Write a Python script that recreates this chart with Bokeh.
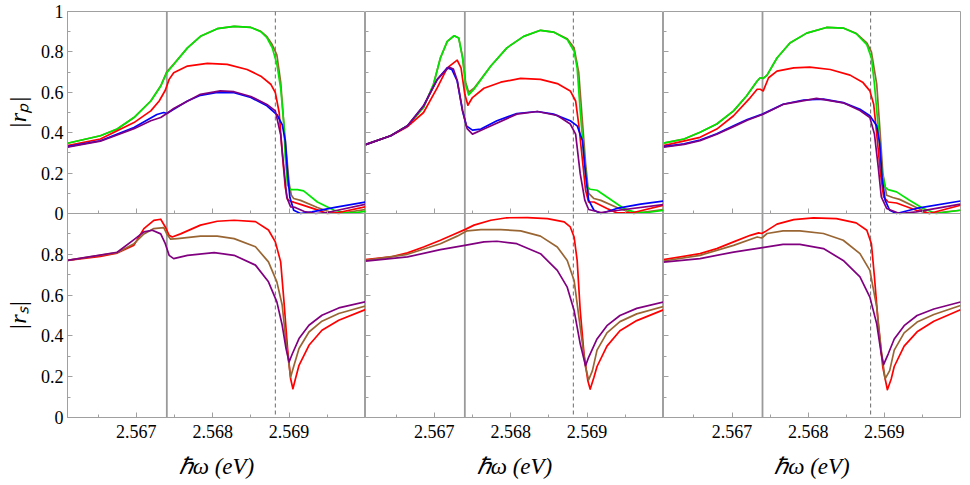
import math
from bokeh.plotting import figure
from bokeh.models import (FixedTicker, Span, Range1d, LinearAxis,
                          CustomLabelingPolicy)
from bokeh.core.properties import value
from bokeh.layouts import row
from bokeh.embed import file_html
from bokeh.resources import INLINE

# ---------------- axes / ticks ----------------
x_limits = (2.5661, 2.5700)
x_ticks = [2.567, 2.568, 2.569]
x_tick_labels = ["2.567", "2.568", "2.569"]
x_minor_ticks = [2.5665, 2.5675, 2.5685, 2.5695]
rp_ticks = [0.0, 0.2, 0.4, 0.6, 0.8, 1.0]
rp_tick_labels = ["0", "0.2", "0.4", "0.6", "0.8", "1"]
rs_ticks = [0.0, 0.2, 0.4, 0.6, 0.8]
rs_tick_labels = ["0", "0.2", "0.4", "0.6", "0.8"]
y_minor_ticks = [0.1, 0.3, 0.5, 0.7, 0.9]
solid_line_x = 2.5674
dashed_line_x = 2.56882
x_label = "\u210f\u03c9 (eV)"
rp_label = "|r\u209a|"
rs_label = "|r\u209b|"

# ---------------- |r_p|, left panel ----------------
rp_a_green_x = [2.56610, 2.56653, 2.56675, 2.56697, 2.56719, 2.56732, 2.56740, 2.56749, 2.56767, 2.56784, 2.56806, 2.56828, 2.56850, 2.56863, 2.56871, 2.56878, 2.56884, 2.56889, 2.56893, 2.56895, 2.56898, 2.56902, 2.56911, 2.56919, 2.56937, 2.56959, 2.56976, 2.56990, 2.57000]
rp_a_green_y = [0.348, 0.385, 0.418, 0.475, 0.557, 0.630, 0.697, 0.738, 0.820, 0.877, 0.915, 0.926, 0.921, 0.900, 0.870, 0.820, 0.740, 0.620, 0.450, 0.280, 0.140, 0.118, 0.118, 0.112, 0.057, 0.016, 0.002, 0.006, 0.011]
rp_a_brown_x = [2.56610, 2.56653, 2.56675, 2.56697, 2.56719, 2.56732, 2.56740, 2.56749, 2.56767, 2.56784, 2.56806, 2.56828, 2.56850, 2.56863, 2.56871, 2.56878, 2.56884, 2.56889, 2.56893, 2.56897, 2.56900, 2.56903, 2.56906, 2.56915, 2.56937, 2.56955, 2.56965, 2.57000]
rp_a_brown_y = [0.348, 0.385, 0.418, 0.475, 0.557, 0.632, 0.702, 0.740, 0.820, 0.877, 0.915, 0.926, 0.921, 0.902, 0.875, 0.835, 0.785, 0.650, 0.450, 0.280, 0.150, 0.090, 0.074, 0.065, 0.030, 0.005, 0.000, 0.020]
rp_a_red_x = [2.56610, 2.56653, 2.56697, 2.56719, 2.56730, 2.56738, 2.56743, 2.56749, 2.56767, 2.56793, 2.56819, 2.56845, 2.56863, 2.56876, 2.56882, 2.56887, 2.56891, 2.56895, 2.56898, 2.56902, 2.56906, 2.56915, 2.56937, 2.56950, 2.56965, 2.57000]
rp_a_red_y = [0.336, 0.369, 0.450, 0.508, 0.557, 0.610, 0.664, 0.697, 0.730, 0.743, 0.738, 0.713, 0.680, 0.640, 0.598, 0.500, 0.300, 0.130, 0.070, 0.060, 0.056, 0.045, 0.018, 0.000, 0.005, 0.033]
rp_a_blue_x = [2.56610, 2.56653, 2.56697, 2.56727, 2.56736, 2.56740, 2.56749, 2.56767, 2.56784, 2.56806, 2.56828, 2.56850, 2.56871, 2.56884, 2.56891, 2.56895, 2.56898, 2.56901, 2.56906, 2.56915, 2.56930, 2.56960, 2.57000]
rp_a_blue_y = [0.331, 0.360, 0.426, 0.490, 0.500, 0.495, 0.516, 0.557, 0.585, 0.600, 0.598, 0.574, 0.533, 0.490, 0.440, 0.360, 0.200, 0.080, 0.016, 0.000, 0.008, 0.030, 0.057]
rp_a_purple_x = [2.56610, 2.56653, 2.56675, 2.56697, 2.56719, 2.56732, 2.56740, 2.56749, 2.56784, 2.56810, 2.56828, 2.56850, 2.56871, 2.56882, 2.56889, 2.56893, 2.56897, 2.56902, 2.56908, 2.56920, 2.56935, 2.56950, 2.57000]
rp_a_purple_y = [0.328, 0.358, 0.389, 0.420, 0.459, 0.475, 0.495, 0.520, 0.590, 0.607, 0.603, 0.579, 0.540, 0.508, 0.390, 0.230, 0.080, 0.033, 0.030, 0.010, 0.000, 0.005, 0.046]

# ---------------- |r_p|, middle panel ----------------
rp_b_green_x = [2.56610, 2.56643, 2.56665, 2.56686, 2.56699, 2.56708, 2.56717, 2.56726, 2.56732, 2.56737, 2.56741, 2.56745, 2.56752, 2.56774, 2.56795, 2.56817, 2.56839, 2.56856, 2.56874, 2.56883, 2.56887, 2.56891, 2.56896, 2.56900, 2.56904, 2.56913, 2.56926, 2.56948, 2.56961, 2.56979, 2.57000]
rp_b_green_y = [0.341, 0.385, 0.434, 0.525, 0.640, 0.770, 0.852, 0.880, 0.869, 0.770, 0.640, 0.587, 0.615, 0.730, 0.820, 0.877, 0.907, 0.898, 0.861, 0.803, 0.720, 0.508, 0.279, 0.130, 0.120, 0.115, 0.082, 0.025, 0.008, 0.005, 0.016]
rp_b_brown_x = [2.56610, 2.56643, 2.56665, 2.56686, 2.56699, 2.56708, 2.56717, 2.56726, 2.56732, 2.56737, 2.56741, 2.56745, 2.56752, 2.56774, 2.56795, 2.56817, 2.56839, 2.56856, 2.56874, 2.56883, 2.56889, 2.56894, 2.56898, 2.56902, 2.56909, 2.56918, 2.56939, 2.56961, 2.57000]
rp_b_brown_y = [0.341, 0.385, 0.434, 0.525, 0.640, 0.770, 0.852, 0.880, 0.869, 0.775, 0.650, 0.600, 0.620, 0.730, 0.820, 0.877, 0.907, 0.898, 0.865, 0.820, 0.700, 0.450, 0.250, 0.100, 0.074, 0.065, 0.030, 0.000, 0.020]
rp_b_red_x = [2.56610, 2.56643, 2.56665, 2.56686, 2.56704, 2.56717, 2.56730, 2.56735, 2.56740, 2.56744, 2.56750, 2.56765, 2.56787, 2.56813, 2.56839, 2.56861, 2.56878, 2.56885, 2.56889, 2.56894, 2.56898, 2.56902, 2.56909, 2.56926, 2.56939, 2.56961, 2.57000]
rp_b_red_y = [0.341, 0.385, 0.430, 0.500, 0.623, 0.721, 0.759, 0.721, 0.590, 0.536, 0.574, 0.620, 0.650, 0.669, 0.664, 0.643, 0.607, 0.557, 0.443, 0.262, 0.115, 0.057, 0.057, 0.025, 0.003, 0.005, 0.041]
rp_b_blue_x = [2.56610, 2.56643, 2.56665, 2.56686, 2.56704, 2.56717, 2.56723, 2.56730, 2.56737, 2.56742, 2.56750, 2.56761, 2.56782, 2.56808, 2.56835, 2.56856, 2.56878, 2.56887, 2.56894, 2.56898, 2.56902, 2.56909, 2.56918, 2.56939, 2.56970, 2.57000]
rp_b_blue_y = [0.341, 0.385, 0.434, 0.533, 0.664, 0.721, 0.713, 0.656, 0.508, 0.434, 0.413, 0.418, 0.459, 0.495, 0.505, 0.492, 0.459, 0.434, 0.360, 0.197, 0.066, 0.016, 0.000, 0.025, 0.046, 0.062]
rp_b_purple_x = [2.56610, 2.56643, 2.56665, 2.56686, 2.56704, 2.56719, 2.56725, 2.56730, 2.56737, 2.56743, 2.56750, 2.56765, 2.56808, 2.56835, 2.56861, 2.56878, 2.56885, 2.56891, 2.56897, 2.56902, 2.56918, 2.56939, 2.57000]
rp_b_purple_y = [0.341, 0.385, 0.434, 0.533, 0.664, 0.725, 0.715, 0.660, 0.510, 0.420, 0.393, 0.418, 0.492, 0.505, 0.485, 0.443, 0.393, 0.197, 0.066, 0.020, 0.005, 0.015, 0.044]

# ---------------- |r_p|, right panel ----------------
rp_c_green_x = [2.56610, 2.56637, 2.56658, 2.56680, 2.56702, 2.56719, 2.56733, 2.56737, 2.56741, 2.56746, 2.56759, 2.56776, 2.56798, 2.56824, 2.56846, 2.56863, 2.56877, 2.56883, 2.56887, 2.56892, 2.56896, 2.56901, 2.56905, 2.56916, 2.56933, 2.56951, 2.56968, 2.57000]
rp_c_green_y = [0.348, 0.369, 0.402, 0.443, 0.508, 0.582, 0.656, 0.672, 0.669, 0.685, 0.770, 0.844, 0.893, 0.921, 0.918, 0.890, 0.836, 0.770, 0.640, 0.426, 0.230, 0.131, 0.118, 0.107, 0.066, 0.025, 0.000, 0.016]
rp_c_brown_x = [2.56610, 2.56637, 2.56658, 2.56680, 2.56702, 2.56719, 2.56733, 2.56737, 2.56741, 2.56746, 2.56759, 2.56776, 2.56798, 2.56824, 2.56846, 2.56863, 2.56877, 2.56883, 2.56890, 2.56894, 2.56898, 2.56903, 2.56911, 2.56920, 2.56942, 2.56959, 2.57000]
rp_c_brown_y = [0.348, 0.369, 0.402, 0.443, 0.508, 0.582, 0.656, 0.672, 0.669, 0.685, 0.770, 0.844, 0.893, 0.921, 0.918, 0.892, 0.845, 0.800, 0.640, 0.426, 0.200, 0.090, 0.079, 0.070, 0.030, 0.000, 0.016]
rp_c_red_x = [2.56610, 2.56658, 2.56680, 2.56702, 2.56724, 2.56733, 2.56737, 2.56741, 2.56748, 2.56759, 2.56781, 2.56802, 2.56829, 2.56855, 2.56872, 2.56881, 2.56886, 2.56890, 2.56895, 2.56899, 2.56905, 2.56916, 2.56942, 2.56959, 2.57000]
rp_c_red_y = [0.336, 0.377, 0.418, 0.484, 0.574, 0.615, 0.615, 0.607, 0.672, 0.705, 0.721, 0.725, 0.713, 0.685, 0.648, 0.607, 0.541, 0.393, 0.197, 0.082, 0.057, 0.052, 0.016, 0.000, 0.041]
rp_c_blue_x = [2.56610, 2.56637, 2.56658, 2.56680, 2.56702, 2.56720, 2.56740, 2.56767, 2.56794, 2.56820, 2.56846, 2.56868, 2.56881, 2.56890, 2.56894, 2.56897, 2.56901, 2.56907, 2.56916, 2.56942, 2.57000]
rp_c_blue_y = [0.331, 0.345, 0.364, 0.395, 0.434, 0.465, 0.492, 0.541, 0.562, 0.566, 0.549, 0.516, 0.484, 0.434, 0.344, 0.180, 0.066, 0.016, 0.000, 0.025, 0.062]
rp_c_purple_x = [2.56610, 2.56637, 2.56658, 2.56680, 2.56702, 2.56720, 2.56740, 2.56767, 2.56811, 2.56846, 2.56868, 2.56881, 2.56887, 2.56892, 2.56896, 2.56903, 2.56920, 2.56942, 2.57000]
rp_c_purple_y = [0.328, 0.342, 0.360, 0.392, 0.430, 0.462, 0.490, 0.540, 0.570, 0.548, 0.510, 0.475, 0.393, 0.230, 0.082, 0.025, 0.000, 0.008, 0.046]

# ---------------- |r_s|, left panel ----------------
rs_a_red_x = [2.56610, 2.56653, 2.56675, 2.56697, 2.56710, 2.56723, 2.56732, 2.56738, 2.56743, 2.56747, 2.56758, 2.56784, 2.56806, 2.56828, 2.56856, 2.56873, 2.56882, 2.56889, 2.56893, 2.56898, 2.56902, 2.56905, 2.56908, 2.56913, 2.56926, 2.56943, 2.56965, 2.57000]
rs_a_red_y = [0.770, 0.790, 0.806, 0.845, 0.926, 0.966, 0.972, 0.934, 0.893, 0.885, 0.900, 0.943, 0.962, 0.967, 0.960, 0.919, 0.861, 0.763, 0.583, 0.338, 0.190, 0.141, 0.185, 0.256, 0.354, 0.428, 0.477, 0.529]
rs_a_brown_x = [2.56610, 2.56675, 2.56697, 2.56710, 2.56723, 2.56736, 2.56740, 2.56745, 2.56754, 2.56784, 2.56806, 2.56828, 2.56856, 2.56873, 2.56884, 2.56891, 2.56896, 2.56900, 2.56902, 2.56906, 2.56913, 2.56926, 2.56943, 2.56965, 2.57000]
rs_a_brown_y = [0.770, 0.808, 0.852, 0.900, 0.926, 0.931, 0.900, 0.874, 0.877, 0.889, 0.889, 0.877, 0.837, 0.763, 0.665, 0.550, 0.370, 0.256, 0.198, 0.250, 0.338, 0.419, 0.472, 0.510, 0.547]
rs_a_purple_x = [2.56610, 2.56675, 2.56697, 2.56710, 2.56721, 2.56732, 2.56738, 2.56743, 2.56749, 2.56767, 2.56802, 2.56828, 2.56856, 2.56873, 2.56884, 2.56891, 2.56896, 2.56900, 2.56904, 2.56913, 2.56926, 2.56943, 2.56965, 2.57000]
rs_a_purple_y = [0.770, 0.810, 0.872, 0.910, 0.918, 0.900, 0.852, 0.795, 0.779, 0.795, 0.808, 0.795, 0.747, 0.665, 0.567, 0.452, 0.338, 0.272, 0.310, 0.387, 0.452, 0.501, 0.537, 0.567]

# ---------------- |r_s|, middle panel ----------------
rs_b_red_x = [2.56610, 2.56643, 2.56665, 2.56686, 2.56708, 2.56726, 2.56740, 2.56752, 2.56774, 2.56795, 2.56822, 2.56848, 2.56870, 2.56878, 2.56883, 2.56887, 2.56891, 2.56896, 2.56901, 2.56904, 2.56909, 2.56913, 2.56926, 2.56943, 2.56965, 2.57000]
rs_b_red_y = [0.774, 0.787, 0.807, 0.836, 0.869, 0.898, 0.921, 0.943, 0.967, 0.979, 0.980, 0.975, 0.959, 0.934, 0.885, 0.770, 0.525, 0.311, 0.180, 0.139, 0.197, 0.250, 0.350, 0.425, 0.475, 0.528]
rs_b_brown_x = [2.56610, 2.56665, 2.56708, 2.56730, 2.56743, 2.56761, 2.56787, 2.56813, 2.56839, 2.56861, 2.56874, 2.56883, 2.56891, 2.56898, 2.56902, 2.56907, 2.56913, 2.56926, 2.56943, 2.56965, 2.57000]
rs_b_brown_y = [0.770, 0.800, 0.852, 0.889, 0.915, 0.921, 0.921, 0.915, 0.889, 0.836, 0.770, 0.672, 0.443, 0.246, 0.184, 0.230, 0.330, 0.415, 0.470, 0.508, 0.544]
rs_b_purple_x = [2.56610, 2.56665, 2.56708, 2.56740, 2.56765, 2.56782, 2.56808, 2.56839, 2.56861, 2.56874, 2.56883, 2.56891, 2.56898, 2.56902, 2.56913, 2.56926, 2.56943, 2.56965, 2.57000]
rs_b_purple_y = [0.767, 0.787, 0.823, 0.844, 0.861, 0.864, 0.852, 0.803, 0.721, 0.639, 0.525, 0.361, 0.254, 0.295, 0.385, 0.450, 0.500, 0.535, 0.566]

# ---------------- |r_s|, right panel ----------------
rs_c_red_x = [2.56610, 2.56658, 2.56680, 2.56702, 2.56724, 2.56735, 2.56739, 2.56743, 2.56759, 2.56781, 2.56807, 2.56837, 2.56863, 2.56877, 2.56883, 2.56887, 2.56892, 2.56898, 2.56904, 2.56909, 2.56913, 2.56926, 2.56943, 2.56965, 2.57000]
rs_c_red_y = [0.774, 0.803, 0.828, 0.861, 0.893, 0.905, 0.902, 0.910, 0.948, 0.970, 0.979, 0.975, 0.954, 0.918, 0.852, 0.689, 0.459, 0.246, 0.136, 0.189, 0.250, 0.350, 0.420, 0.472, 0.528]
rs_c_brown_x = [2.56610, 2.56658, 2.56702, 2.56733, 2.56739, 2.56746, 2.56767, 2.56789, 2.56820, 2.56846, 2.56868, 2.56881, 2.56890, 2.56896, 2.56901, 2.56907, 2.56913, 2.56926, 2.56943, 2.56965, 2.57000]
rs_c_brown_y = [0.767, 0.795, 0.844, 0.885, 0.880, 0.902, 0.915, 0.915, 0.902, 0.869, 0.803, 0.721, 0.541, 0.328, 0.189, 0.230, 0.330, 0.415, 0.468, 0.505, 0.549]
rs_c_purple_x = [2.56610, 2.56658, 2.56702, 2.56740, 2.56767, 2.56789, 2.56820, 2.56846, 2.56868, 2.56881, 2.56890, 2.56896, 2.56899, 2.56905, 2.56913, 2.56926, 2.56943, 2.56965, 2.57000]
rs_c_purple_y = [0.762, 0.779, 0.811, 0.833, 0.849, 0.849, 0.828, 0.770, 0.689, 0.590, 0.459, 0.311, 0.259, 0.311, 0.385, 0.450, 0.500, 0.532, 0.566]

# ---------------- styling ----------------
COLORS = {"green": "#00e600", "brown": "#996633", "red": "#ff0000",
          "blue": "#0000ff", "purple": "#800080"}
FONT = "Liberation Serif"
FRAME = "#a0a0a0"
LW = 1.7

top_series = [
    [("brown", rp_a_brown_x, rp_a_brown_y), ("green", rp_a_green_x, rp_a_green_y), ("red", rp_a_red_x, rp_a_red_y),
     ("blue", rp_a_blue_x, rp_a_blue_y), ("purple", rp_a_purple_x, rp_a_purple_y)],
    [("brown", rp_b_brown_x, rp_b_brown_y), ("green", rp_b_green_x, rp_b_green_y), ("red", rp_b_red_x, rp_b_red_y),
     ("blue", rp_b_blue_x, rp_b_blue_y), ("purple", rp_b_purple_x, rp_b_purple_y)],
    [("brown", rp_c_brown_x, rp_c_brown_y), ("green", rp_c_green_x, rp_c_green_y), ("red", rp_c_red_x, rp_c_red_y),
     ("blue", rp_c_blue_x, rp_c_blue_y), ("purple", rp_c_purple_x, rp_c_purple_y)],
]
bottom_series = [
    [("red", rs_a_red_x, rs_a_red_y), ("brown", rs_a_brown_x, rs_a_brown_y), ("purple", rs_a_purple_x, rs_a_purple_y)],
    [("red", rs_b_red_x, rs_b_red_y), ("brown", rs_b_brown_x, rs_b_brown_y), ("purple", rs_b_purple_x, rs_b_purple_y)],
    [("red", rs_c_red_x, rs_c_red_y), ("brown", rs_c_brown_x, rs_c_brown_y), ("purple", rs_c_purple_x, rs_c_purple_y)],
]

# layout: each column is one figure holding the |r_p| panel (upper part of
# the frame) and the |r_s| panel (lower part), each on its own 0..1 range.
FRAME_W = [298, 298, 297]
TITLE_W = 34
TOP_H, BOT_H = 202, 204
FRAME_H = TOP_H + BOT_H
BORDER_TOP, BORDER_BOTTOM = 11, 68
rs_range = (0.0, FRAME_H / BOT_H)            # |r_s| 0..1 fills lower part
rp_range = (1.0 - FRAME_H / TOP_H, 1.0)      # |r_p| 0..1 fills upper part


def rp_on_rs_axis(v):
    """Position of an |r_p| value on the default (|r_s|) y range."""
    return rs_range[1] - (1.0 - v) * TOP_H / BOT_H


HIDE_CODE = "for (const i of indices) { indices.unset(i) }\nreturn indices"


def style_axis(ax, show_labels):
    ax.axis_line_color = FRAME
    ax.axis_line_width = 1
    ax.major_tick_line_color = FRAME
    ax.minor_tick_line_color = FRAME
    ax.major_tick_in = 5
    ax.major_tick_out = 0
    ax.minor_tick_in = 3
    ax.minor_tick_out = 0
    ax.major_label_text_font = FONT
    ax.major_label_text_font_size = "18px"
    ax.major_label_text_color = "black"
    ax.axis_label_text_font = FONT
    ax.axis_label_text_font_style = "italic"
    ax.axis_label_text_font_size = "23px"
    ax.axis_label_text_color = "black"
    if not show_labels:
        ax.major_label_policy = CustomLabelingPolicy(code=HIDE_CODE)


def make_title_strip():
    """Narrow strip left of the first column carrying the |r_p| / |r_s| titles."""
    p = figure(frame_width=TITLE_W, frame_height=FRAME_H,
               x_range=Range1d(0, 1), y_range=Range1d(*rs_range),
               x_axis_type=None, y_axis_type=None,
               output_backend="svg", toolbar_location=None,
               min_border_left=0, min_border_right=0,
               min_border_top=BORDER_TOP, min_border_bottom=BORDER_BOTTOM)
    p.extra_y_ranges = {"rp": Range1d(*rp_range)}
    p.grid.visible = False
    p.outline_line_color = None
    p.background_fill_color = "white"
    p.border_fill_color = "white"
    for txt, rng in ((rp_label, "rp"), (rs_label, "default")):
        p.text(x=[0.5], y=[0.5], text=[txt], y_range_name=rng, angle=math.pi / 2,
               text_align="center", text_baseline="middle",
               text_font=value(FONT), text_font_style="italic",
               text_font_size="24px", text_color="black")
    return p


def make_column(col):
    first = col == 0
    p = figure(frame_width=FRAME_W[col], frame_height=FRAME_H,
               x_range=Range1d(*x_limits), y_range=Range1d(*rs_range),
               x_axis_type=None, y_axis_type=None,
               output_backend="svg", toolbar_location=None,
               min_border_left=67 - TITLE_W if first else 0,
               min_border_right=8 if col == 2 else 0,
               min_border_top=BORDER_TOP, min_border_bottom=BORDER_BOTTOM)
    p.extra_y_ranges = {"rp": Range1d(*rp_range)}
    p.grid.visible = False
    p.outline_line_color = FRAME
    p.outline_line_width = 1
    p.background_fill_color = "white"
    p.border_fill_color = "white"

    # bottom x axis with labels
    xb = LinearAxis(ticker=FixedTicker(ticks=x_ticks, minor_ticks=x_minor_ticks),
                    major_label_overrides=dict(zip(x_ticks, x_tick_labels)),
                    axis_label=x_label)
    style_axis(xb, True)
    xb.major_label_standoff = 7
    xb.axis_label_standoff = 13
    p.add_layout(xb, "below")

    # x axis along the boundary between the two panels (ticks only)
    xm = LinearAxis(ticker=FixedTicker(ticks=x_ticks, minor_ticks=x_minor_ticks),
                    fixed_location=1.0)
    style_axis(xm, False)
    p.add_layout(xm, "below")

    if first:
        # one left axis carrying the ticks of both panels
        ticks = rs_ticks + [rp_on_rs_axis(v) for v in rp_ticks]
        labels = rs_tick_labels + rp_tick_labels
        minors = y_minor_ticks + [rp_on_rs_axis(v) for v in y_minor_ticks]
        ya = LinearAxis(ticker=FixedTicker(ticks=ticks, minor_ticks=minors),
                        major_label_overrides=dict(zip(ticks, labels)))
        style_axis(ya, True)
        ya.major_label_standoff = 4
        p.add_layout(ya, "left")
    else:
        ys = LinearAxis(ticker=FixedTicker(ticks=rs_ticks, minor_ticks=y_minor_ticks),
                        bounds=(0.0, 1.0), fixed_location=x_limits[0])
        style_axis(ys, False)
        p.add_layout(ys, "left")
        yp = LinearAxis(y_range_name="rp",
                        ticker=FixedTicker(ticks=rp_ticks, minor_ticks=y_minor_ticks),
                        bounds=(0.0, 1.0), fixed_location=x_limits[0])
        style_axis(yp, False)
        p.add_layout(yp, "left")

    p.add_layout(Span(location=solid_line_x, dimension="height", line_color="#9a9a9a",
                      line_width=1.8, level="underlay"))
    p.add_layout(Span(location=dashed_line_x, dimension="height", line_color="#6a6a6a",
                      line_width=1, line_dash="4 3", level="underlay"))

    for name, xs, ys_ in top_series[col]:
        p.line(xs, ys_, y_range_name="rp", line_color=COLORS[name], line_width=LW,
               line_join="round")
    for name, xs, ys_ in bottom_series[col]:
        p.line(xs, ys_, line_color=COLORS[name], line_width=LW, line_join="round")
    return p


layout = row(make_title_strip(), *[make_column(c) for c in range(3)])

open("out.html", "w").write(file_html(layout, INLINE, title="Reflectance"))
